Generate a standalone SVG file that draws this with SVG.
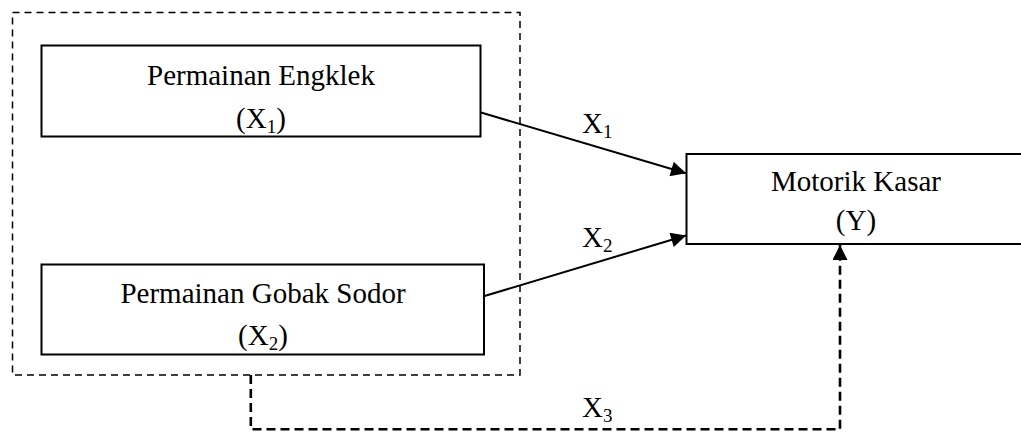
<svg xmlns="http://www.w3.org/2000/svg" width="1021" height="432" viewBox="0 0 1021 432">
  <style>
    .box { fill: #ffffff; stroke: #000000; stroke-width: 2; }
    .group { fill: none; stroke: #000000; stroke-width: 1.5; stroke-dasharray: 7 5; }
    .link { fill: none; stroke: #000000; stroke-width: 2; }
    .dlink { fill: none; stroke: #000000; stroke-width: 2.6; stroke-dasharray: 9 5; }
    text { font-family: "Liberation Serif", "Times New Roman", serif; font-size: 29px; fill: #000000; }
    .mid { text-anchor: middle; }
    .sub { font-size: 19px; }
  </style>
  <defs>
    <marker id="arrow" viewBox="0 0 10 10" refX="10" refY="5" markerUnits="userSpaceOnUse" markerWidth="18" markerHeight="15" orient="auto">
      <path d="M0,0 L10,5 L0,10 Z" fill="#000000"/>
    </marker>
  </defs>

  <rect width="1021" height="432" fill="#ffffff"/>

  <!-- dashed frame around the two independent variables -->
  <rect id="frame" class="group" x="12.5" y="12.5" width="507.5" height="362.5"/>

  <g id="node-x1">
    <rect class="box" x="41.5" y="45.5" width="439" height="91"/>
    <text class="mid" x="261" y="84.5">Permainan Engklek</text>
    <text class="mid" x="261" y="127.5">(X<tspan class="sub" dy="5">1</tspan><tspan dy="-5">)</tspan></text>
  </g>

  <g id="node-x2">
    <rect class="box" x="41.5" y="264.5" width="442.5" height="90"/>
    <text class="mid" x="263" y="303">Permainan Gobak Sodor</text>
    <text class="mid" x="263" y="345">(X<tspan class="sub" dy="5">2</tspan><tspan dy="-5">)</tspan></text>
  </g>

  <g id="node-y">
    <rect class="box" x="686.5" y="154" width="340" height="90"/>
    <text class="mid" x="856" y="191">Motorik Kasar</text>
    <text class="mid" x="856" y="230">(Y)</text>
  </g>

  <g id="connectors">
    <line class="link" x1="481" y1="112.5" x2="686" y2="173.3" marker-end="url(#arrow)"/>
    <line class="link" x1="484.5" y1="296" x2="686" y2="235.5" marker-end="url(#arrow)"/>
    <path class="dlink" d="M250.8,375 V429.3 H840 V245" marker-end="url(#arrow)"/>
    <text x="582" y="133.3">X<tspan class="sub" dy="5">1</tspan></text>
    <text x="582" y="246.7">X<tspan class="sub" dy="5">2</tspan></text>
    <text x="582" y="417">X<tspan class="sub" dy="5">3</tspan></text>
  </g>
</svg>
